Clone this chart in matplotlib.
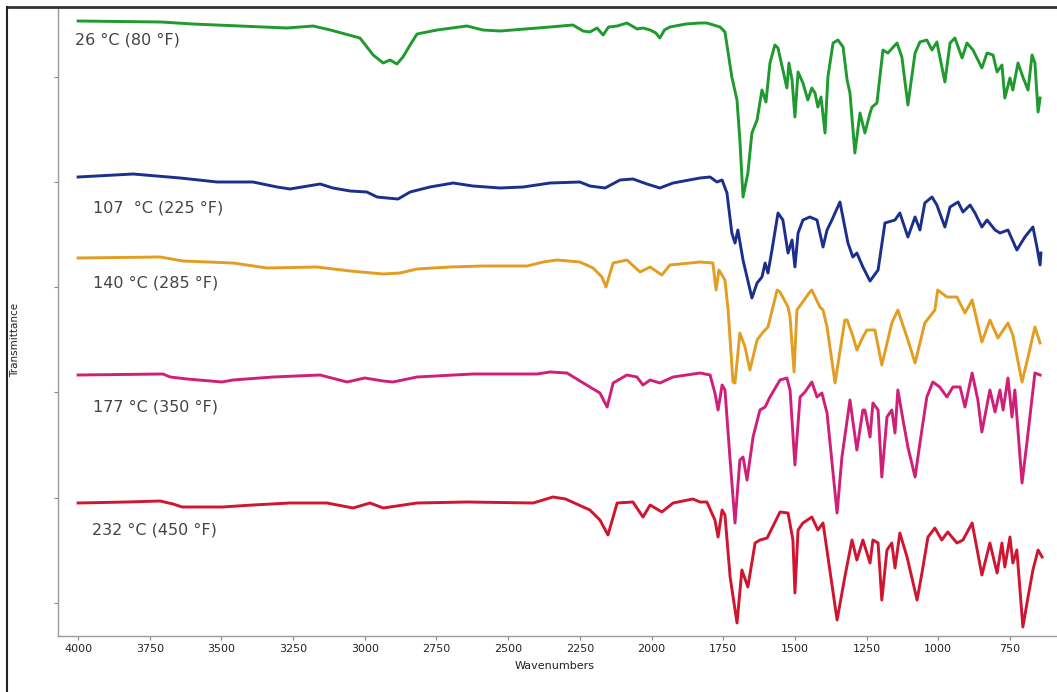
import matplotlib
matplotlib.use("Agg")
from matplotlib import pyplot as plt
from matplotlib.lines import Line2D

# wavenumber (cm-1) and transmittance (arbitrary, stacked) for each cure temperature
wn_26 = [4000, 3710, 3600, 3272, 3180, 3120, 3017, 3006, 2971, 2936, 2912, 2888, 2867, 2842, 2818,
         2748, 2644, 2588, 2528, 2354, 2274, 2239, 2215, 2190, 2169, 2150, 2120, 2086, 2050, 2030,
         2005, 1985, 1971, 1955, 1936, 1880, 1831, 1807, 1761, 1744, 1720, 1702, 1692, 1681, 1664,
         1650, 1632, 1615, 1601, 1587, 1570, 1559, 1542, 1528, 1521, 1510, 1500, 1489, 1472, 1455,
         1441, 1430, 1420, 1409, 1395, 1385, 1367, 1350, 1332, 1318, 1308, 1291, 1273, 1256, 1238,
         1231, 1214, 1193, 1176, 1144, 1127, 1106, 1081, 1064, 1040, 1022, 1005, 977, 959, 942,
         917, 900, 879, 848, 830, 809, 795, 778, 768, 750, 740, 722, 705, 687, 673, 663, 652, 645]
t_26 = [615, 614, 612, 608, 610, 606, 598, 594, 581, 573, 576, 572, 579, 591, 602,
        606, 610, 606, 605, 609, 611, 605, 604, 608, 601, 609, 610, 613, 607, 608,
        606, 603, 598, 606, 609, 612, 613, 613, 609, 604, 559, 536, 496, 439, 463,
        503, 516, 546, 534, 573, 591, 588, 566, 548, 573, 556, 519, 564, 553, 536,
        548, 543, 529, 539, 503, 559, 593, 596, 589, 556, 543, 483, 523, 503, 523,
        529, 533, 586, 583, 593, 579, 531, 583, 594, 596, 586, 594, 554, 593, 598,
        578, 593, 586, 568, 583, 581, 564, 571, 538, 558, 546, 573, 559, 546, 581, 573, 524, 538]

wn_107 = [4000, 3808, 3644, 3515, 3390, 3306, 3261, 3156, 3111, 3051, 2993, 2957, 2923, 2884, 2842,
          2773, 2692, 2623, 2528, 2448, 2354, 2250, 2215, 2162, 2110, 2065, 2016, 1971, 1925, 1831,
          1796, 1772, 1754, 1737, 1720, 1709, 1699, 1681, 1650, 1632, 1615, 1604, 1594, 1580, 1559,
          1542, 1524, 1510, 1500, 1489, 1472, 1448, 1423, 1402, 1388, 1371, 1343, 1326, 1315, 1298,
          1284, 1263, 1238, 1210, 1186, 1151, 1134, 1106, 1081, 1064, 1047, 1022, 1005, 977, 959,
          931, 914, 889, 872, 848, 830, 802, 785, 757, 726, 698, 670, 656, 645, 642]
t_107 = [459, 462, 458, 454, 454, 449, 447, 452, 448, 445, 444, 439, 438, 437, 444,
         449, 453, 450, 448, 449, 453, 454, 450, 448, 456, 457, 452, 448, 453, 458,
         459, 454, 456, 443, 403, 393, 406, 376, 338, 353, 359, 373, 363, 386, 423,
         416, 383, 396, 369, 403, 416, 419, 416, 389, 406, 416, 434, 409, 393, 379,
         383, 369, 355, 366, 413, 416, 423, 399, 419, 406, 433, 439, 431, 409, 429,
         434, 424, 431, 423, 409, 416, 406, 403, 406, 386, 399, 409, 389, 371, 383]

wn_140 = [4000, 3714, 3634, 3460, 3341, 3167, 3051, 2936, 2877, 2818, 2703, 2588, 2434, 2378, 2330,
          2250, 2204, 2173, 2159, 2134, 2086, 2040, 2005, 1964, 1936, 1831, 1786, 1775, 1765, 1744,
          1733, 1716, 1709, 1692, 1674, 1657, 1632, 1611, 1594, 1562, 1552, 1524, 1517, 1503, 1493,
          1448, 1441, 1413, 1402, 1388, 1360, 1326, 1318, 1298, 1284, 1263, 1249, 1221, 1197, 1162,
          1141, 1106, 1081, 1047, 1012, 1002, 970, 935, 907, 882, 848, 820, 792, 757, 740,
          708, 687, 663, 645]
t_140 = [378, 379, 375, 373, 368, 369, 365, 362, 363, 367, 369, 370, 370, 374, 376,
         374, 368, 359, 349, 373, 376, 364, 369, 361, 371, 374, 373, 346, 366, 356,
         326, 254, 253, 303, 289, 266, 296, 304, 309, 346, 344, 329, 319, 264, 326,
         344, 346, 329, 326, 309, 253, 316, 316, 300, 286, 299, 306, 306, 271, 313,
         326, 296, 273, 313, 326, 346, 339, 339, 323, 336, 294, 316, 298, 313, 301,
         254, 279, 309, 293]

wn_177 = [4000, 3704, 3679, 3620, 3498, 3460, 3320, 3156, 3062, 3000, 2936, 2902, 2818, 2623, 2400,
          2354, 2295, 2215, 2180, 2155, 2134, 2086, 2051, 2030, 2005, 1971, 1925, 1831, 1796, 1779,
          1768, 1754, 1744, 1726, 1709, 1692, 1681, 1667, 1646, 1622, 1604, 1587, 1552, 1528, 1517,
          1500, 1482, 1465, 1441, 1423, 1406, 1388, 1353, 1336, 1308, 1284, 1263, 1256, 1238, 1228,
          1210, 1197, 1179, 1162, 1151, 1141, 1123, 1106, 1081, 1064, 1040, 1019, 995, 970, 949,
          924, 907, 882, 862, 848, 820, 802, 785, 774, 757, 743, 733, 708, 691, 663, 645]
t_177 = [261, 262, 259, 257, 254, 256, 259, 261, 254, 258, 255, 254, 259, 262, 262,
         264, 263, 249, 243, 229, 253, 261, 259, 251, 256, 253, 259, 263, 261, 243,
         226, 251, 246, 176, 113, 176, 179, 156, 199, 226, 229, 239, 256, 258, 246,
         171, 239, 244, 254, 239, 243, 223, 123, 179, 236, 186, 226, 226, 199, 233,
         226, 159, 219, 226, 203, 246, 216, 189, 159, 193, 239, 254, 249, 239, 249,
         249, 229, 263, 236, 204, 246, 224, 246, 226, 258, 219, 246, 153, 193, 263, 261]

wn_232 = [4000, 3830, 3714, 3669, 3637, 3498, 3390, 3261, 3132, 3041, 2982, 2936, 2818, 2644, 2413,
          2344, 2300, 2215, 2180, 2152, 2120, 2065, 2030, 2005, 1964, 1925, 1856, 1831, 1807, 1779,
          1768, 1754, 1744, 1726, 1702, 1685, 1664, 1639, 1622, 1597, 1552, 1524, 1507, 1500, 1489,
          1472, 1441, 1420, 1402, 1353, 1326, 1301, 1284, 1263, 1238, 1228, 1210, 1197, 1179, 1162,
          1151, 1134, 1109, 1074, 1057, 1036, 1012, 988, 967, 935, 914, 882, 848, 820, 795,
          778, 768, 750, 740, 726, 705, 687, 670, 652, 638]
t_232 = [133, 134, 135, 132, 129, 129, 131, 133, 133, 128, 133, 128, 133, 134, 133,
         139, 137, 126, 116, 101, 133, 134, 119, 131, 124, 133, 137, 134, 134, 116,
         99, 126, 121, 59, 13, 66, 49, 93, 96, 98, 124, 123, 96, 43, 106,
         113, 119, 106, 113, 16, 59, 96, 76, 96, 73, 96, 93, 36, 86, 93,
         68, 103, 79, 36, 63, 99, 108, 96, 104, 93, 96, 113, 61, 93, 63,
         93, 69, 99, 73, 86, 9, 39, 66, 86, 79]

labels = ["26 °C (80 °F)", "107  °C (225 °F)", "140 °C (285 °F)", "177 °C (350 °F)", "232 °C (450 °F)"]
label_x = [4010, 3948, 3948, 3948, 3950]
label_y = [596, 428, 353, 229, 106]
colors = ["#1f9a2e", "#1b2f8c", "#e39d22", "#d01f78", "#cf1530"]

x_ticks = [4000, 3750, 3500, 3250, 3000, 2750, 2500, 2250, 2000, 1750, 1500, 1250, 1000, 750]

fig = plt.figure(figsize=(10.57, 6.92), dpi=100)
ax = fig.add_axes([58 / 1057, 56 / 692, 1 - 58 / 1057, (636 - 8) / 692])

series = [(wn_26, t_26), (wn_107, t_107), (wn_140, t_140), (wn_177, t_177), (wn_232, t_232)]
for (wn, t), c in zip(series, colors):
    ax.plot(wn, t, color=c, lw=2.1, solid_joinstyle="round")

narrow = ["Liberation Sans Narrow", "DejaVu Sans Condensed", "DejaVu Sans"]
for lab, lx, ly in zip(labels, label_x, label_y):
    ax.text(lx, ly, lab, ha="left", va="center", fontsize=11.5, color="#444444", family=narrow)

ax.set_xlim(4070, 586)
ax.set_ylim(0, 628)
ax.set_xticks(x_ticks)
ax.set_xticklabels([str(v) for v in x_ticks], family=narrow, fontsize=8, color="#222222")
ax.set_yticks([33, 138, 244, 349, 454, 559])
ax.set_yticklabels([])
ax.tick_params(axis="x", length=3, width=0.8, color="#888888", pad=3)
ax.tick_params(axis="y", length=3, width=0.8, color="#888888")
for s in ["top", "right"]:
    ax.spines[s].set_visible(False)
for s in ["left", "bottom"]:
    ax.spines[s].set_color("#9a9a9a")
    ax.spines[s].set_linewidth(1.0)

fig.text(555 / 1057, 1 - 666 / 692, "Wavenumbers", ha="center", va="center",
         fontsize=8, family=narrow, color="#222222")
fig.text(15 / 1057, 1 - 340 / 692, "Transmittance", ha="center", va="center",
         rotation=90, fontsize=7.5, color="#222222")

# outer frame of the original figure (top and left edges)
fig.add_artist(Line2D([7 / 1057, 1], [1 - 7 / 692, 1 - 7 / 692], transform=fig.transFigure,
                      color="#333333", lw=2))
fig.add_artist(Line2D([7 / 1057, 7 / 1057], [0, 1 - 7 / 692], transform=fig.transFigure,
                      color="#222222", lw=1.5))

plt.savefig("out.png", dpi=100)
